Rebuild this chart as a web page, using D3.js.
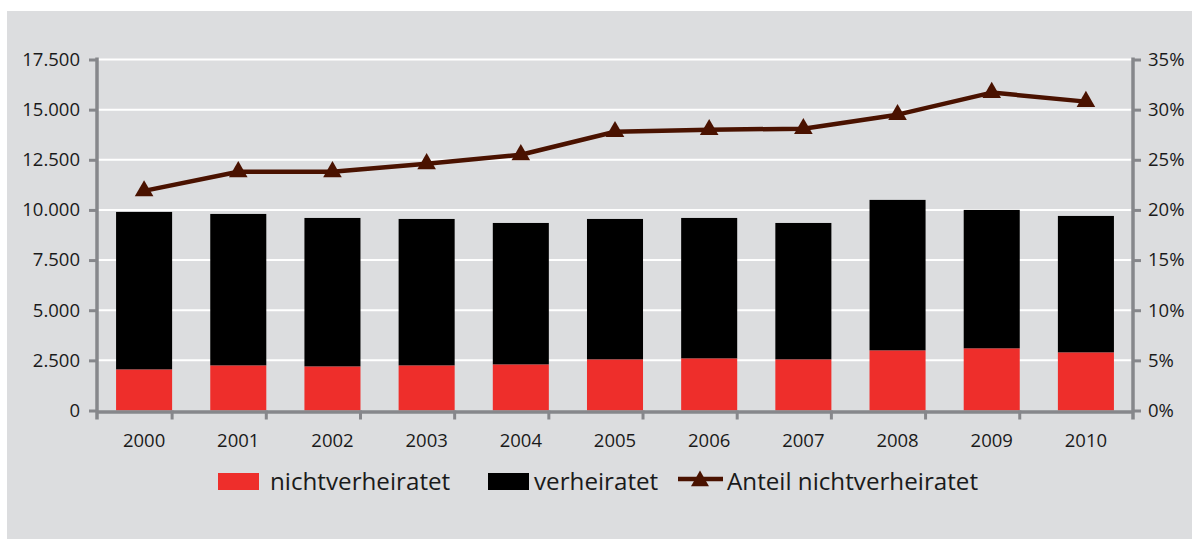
<!DOCTYPE html>
<html><head><meta charset="utf-8">
<script src="https://cdn.jsdelivr.net/npm/d3@7"></script>
<style>body{margin:0;background:#fff}svg{display:block}</style>
</head><body><svg id="c" width="1192" height="539"></svg>
<script>
const years = ["2000","2001","2002","2003","2004","2005","2006","2007","2008","2009","2010"];
const nichtverheiratet = [2050,2250,2200,2250,2300,2550,2600,2550,3000,3100,2900];
const verheiratet = [7850,7550,7400,7300,7050,7000,7000,6800,7500,6900,6800];
const anteilNichtverheiratet = [21.9,23.8,23.8,24.6,25.5,27.8,28.0,28.1,29.5,31.7,30.8];
const leftTickValues = [0,2500,5000,7500,10000,12500,15000,17500];
const leftTickLabels = ["0","2.500","5.000","7.500","10.000","12.500","15.000","17.500"];
const rightTickValues = [0,5,10,15,20,25,30,35];
const rightTickLabels = ["0%","5%","10%","15%","20%","25%","30%","35%"];
const seriesNames = ["nichtverheiratet","verheiratet","Anteil nichtverheiratet"];

const svg = d3.select("#c");
const L = 97, R = 1133, T = 59.5, B = 410.5;
const AXIS = "#86878b", RED = "#ee2e2b", BLACK = "#000000", LINE = "#4a1200", TXT = "#1a1a1a";
const FONT = "'Open Sans', sans-serif";

svg.append("rect").attr("x",7).attr("y",11).attr("width",1185).attr("height",528).attr("fill","#dcdddf");

const x = d3.scaleBand().domain(years).range([L,R]).paddingInner(0.405).paddingOuter(0.2025);
const yL = d3.scaleLinear().domain([0,17500]).range([B,T]);
const yR = d3.scaleLinear().domain([0,35]).range([B,T]);

// gridlines
svg.append("g").selectAll("line").data(leftTickValues.slice(1)).join("line")
  .attr("x1",L).attr("x2",R).attr("y1",d=>yL(d)).attr("y2",d=>yL(d))
  .attr("stroke","#ffffff").attr("stroke-width",2);

// stacked bars
const stacked = years.map((y,i)=>({year:y, a:nichtverheiratet[i], b:verheiratet[i]}));
const gb = svg.append("g");
gb.selectAll("rect.red").data(stacked).join("rect").attr("class","red")
  .attr("x",d=>x(d.year)).attr("width",x.bandwidth())
  .attr("y",d=>yL(d.a)).attr("height",d=>yL(0)-yL(d.a)).attr("fill",RED);
gb.selectAll("rect.blk").data(stacked).join("rect").attr("class","blk")
  .attr("x",d=>x(d.year)).attr("width",x.bandwidth())
  .attr("y",d=>yL(d.a+d.b)).attr("height",d=>yL(d.a)-yL(d.a+d.b)).attr("fill",BLACK);

// left axis
const axL = svg.append("g").attr("transform",`translate(${L},0)`)
  .call(d3.axisLeft(yL).tickValues(leftTickValues).tickFormat((d,i)=>leftTickLabels[i]).tickSize(8).tickSizeOuter(0).tickPadding(9));
axL.select(".domain").remove();
axL.selectAll(".tick line").attr("stroke",AXIS).attr("stroke-width",3);
axL.selectAll("text").attr("font-family",FONT).attr("font-size","18.5px").attr("fill",TXT);

// right axis
const axR = svg.append("g").attr("transform",`translate(${R},0)`)
  .call(d3.axisRight(yR).tickValues(rightTickValues).tickFormat((d,i)=>rightTickLabels[i]).tickSize(8).tickSizeOuter(0).tickPadding(7));
axR.select(".domain").remove();
axR.selectAll(".tick line").attr("stroke",AXIS).attr("stroke-width",3);
axR.selectAll("text").attr("font-family",FONT).attr("font-size","18.5px").attr("fill",TXT);

// axis lines
const axG = svg.append("g").attr("stroke",AXIS).attr("stroke-width",3.5);
axG.append("line").attr("x1",L).attr("x2",L).attr("y1",T-2).attr("y2",B+9);
axG.append("line").attr("x1",R).attr("x2",R).attr("y1",T-2).attr("y2",B+9);
axG.append("line").attr("x1",L).attr("x2",R).attr("y1",B+1.5).attr("y2",B+1.5);
const step = x.step();
const bounds = d3.range(years.length+1).map(i=>x(years[0]) - x.paddingOuter()*step - (x.paddingInner()*step)/2 + i*step);
axG.selectAll("line.xt").data(bounds.slice(1,-1)).join("line").attr("class","xt")
  .attr("x1",d=>d).attr("x2",d=>d).attr("y1",B).attr("y2",B+9).attr("stroke-width",3);

// x labels
const axB = svg.append("g").attr("transform",`translate(0,${B})`)
  .call(d3.axisBottom(x).tickSize(0).tickPadding(0));
axB.select(".domain").remove();
axB.selectAll("text").attr("y",36.5).attr("dy",null).attr("font-family",FONT).attr("font-size","18.5px").attr("fill",TXT);

// line
const pts = years.map((y,i)=>[x(y)+x.bandwidth()/2, yR(anteilNichtverheiratet[i])]);
svg.append("path").attr("d",d3.line()(pts)).attr("fill","none").attr("stroke",LINE).attr("stroke-width",4.5).attr("stroke-linejoin","round");
svg.append("g").selectAll("path").data(pts).join("path")
  .attr("transform",d=>`translate(${d[0]},${d[1]})`)
  .attr("d",d3.symbol(d3.symbolTriangle,150)()).attr("fill",LINE);

// legend
const lg = svg.append("g");
lg.append("rect").attr("x",218).attr("y",473).attr("width",41).attr("height",17).attr("fill",RED);
lg.append("text").attr("x",270).attr("y",490).text(seriesNames[0]);
lg.append("rect").attr("x",488).attr("y",473).attr("width",41).attr("height",17).attr("fill",BLACK);
lg.append("text").attr("x",534).attr("y",490).text(seriesNames[1]);
lg.append("line").attr("x1",678).attr("x2",723).attr("y1",479).attr("y2",479).attr("stroke",LINE).attr("stroke-width",4.5);
lg.append("path").attr("transform","translate(700,481)").attr("d",d3.symbol(d3.symbolTriangle,140)()).attr("fill",LINE);
lg.append("text").attr("x",727).attr("y",490).text(seriesNames[2]);
lg.selectAll("text").attr("font-family",FONT).attr("font-size","24.2px").attr("fill",TXT);
</script></body></html>
